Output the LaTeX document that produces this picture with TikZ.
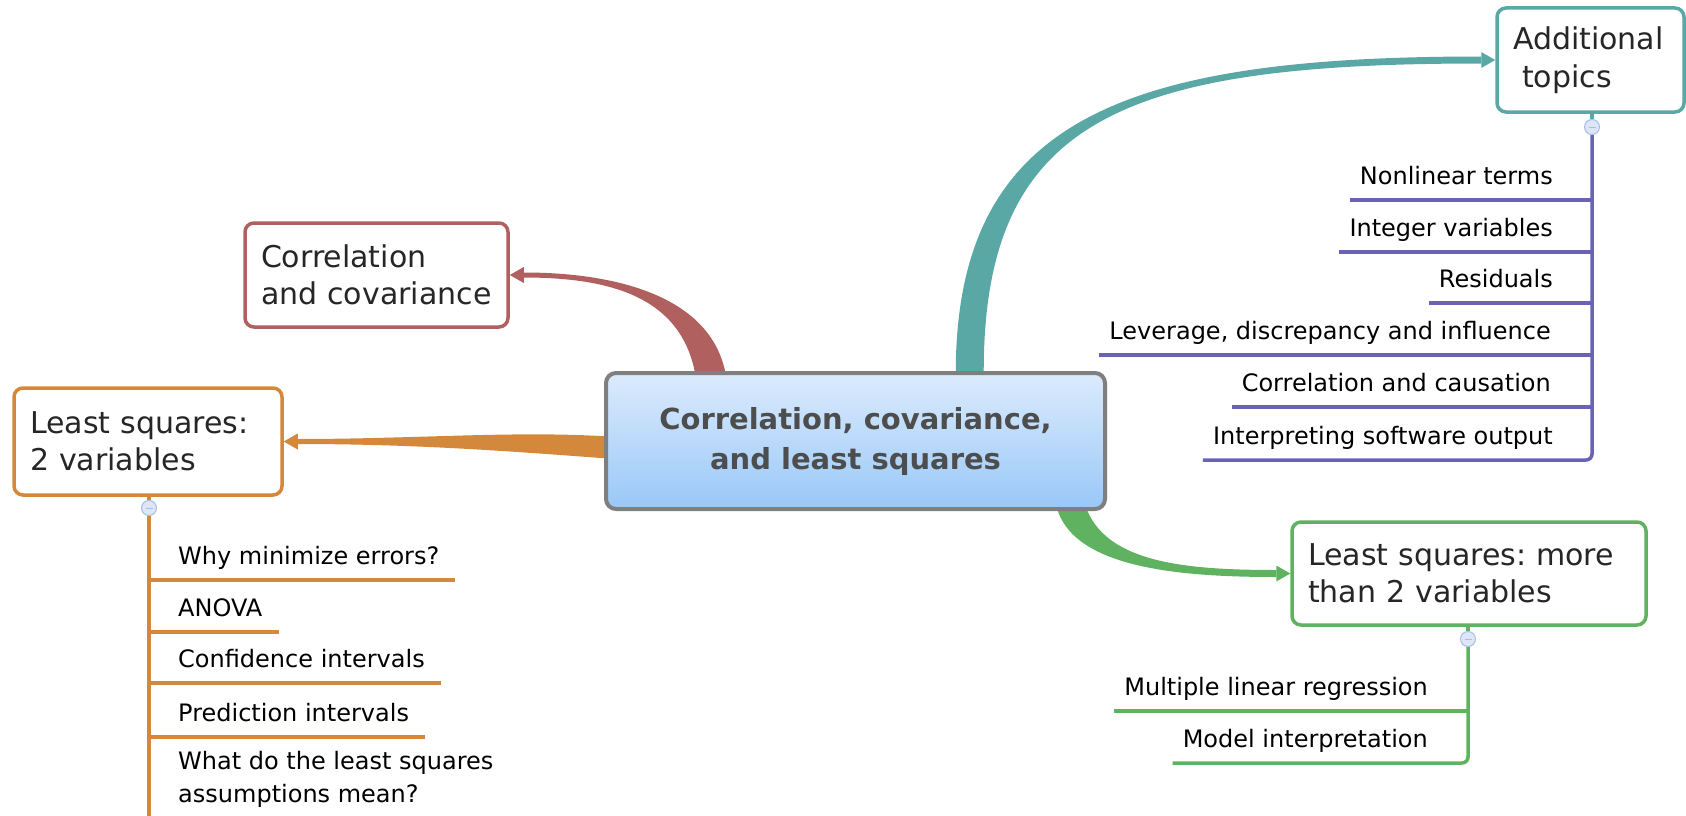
\documentclass[tikz,border=0pt]{standalone}
\usepackage{fontspec}
\setmainfont{DejaVu Sans}
\usetikzlibrary{calc,shadings}
\frenchspacing
\definecolor{cred}{HTML}{B0605E}
\definecolor{corange}{HTML}{D4883C}
\definecolor{cteal}{HTML}{5AA8A6}
\definecolor{cgreen}{HTML}{5FB260}
\definecolor{cpurple}{HTML}{6A62B6}
\definecolor{cgray}{HTML}{7F7F7F}
\definecolor{ctext}{HTML}{262626}
\definecolor{cmain}{HTML}{4D4D4D}
\definecolor{ctop}{HTML}{DCEBFC}
\definecolor{cbot}{HTML}{98C8F8}
\definecolor{cfill}{HTML}{DDE6F7}
\definecolor{cring}{HTML}{A9BDE6}
\newcommand\taperlink[8]{%
  \fill[#1] ($(#2)!#6!90:(#3)$) .. controls ($(#3)!#6!-90:(#2)$) and ($(#4)!#7!90:(#5)$) .. ($(#5)!#7!-90:(#4)$)
     -- ($(#5)!#7!90:(#4)$) .. controls ($(#4)!#7!-90:(#5)$) and ($(#3)!#6!90:(#2)$) .. ($(#2)!#6!-90:(#3)$) -- cycle;
  \fill[#1] (#8) -- ($(#5)!8pt!90:(#8)$) -- ($(#5)!8pt!-90:(#8)$) -- cycle;}
\begin{document}
\begin{tikzpicture}[x=1pt,y=-1pt,
  topicbox/.style={draw=#1, line width=3.5pt, rounded corners=9pt, fill=white, align=left,
     inner xsep=16pt, inner ysep=0pt, text=ctext, font=\fontsize{30}{37.5}\selectfont},
  mainbox/.style={draw=cgray, line width=4pt, rounded corners=10pt, top color=ctop, bottom color=cbot,
     align=center, text=cmain, font=\fontsize{29}{40}\selectfont\bfseries, inner sep=0pt,
     minimum width=499pt, minimum height=136pt},
  subitem/.style={font=\fontsize{24}{33}\selectfont, inner xsep=10pt, inner ysep=9.5pt, text depth=6pt, text=black},
  fold/.style={circle, minimum size=15pt, inner sep=0pt, fill=cfill, draw=cring, line width=1pt},
  stem/.style={line width=3.5pt}]
\useasboundingbox (0,0) rectangle (1686,816);

% main topic boxes
\node[topicbox=cred, text width=231pt, minimum height=104pt] (corr) at (376.5,275) {Correlation\\and covariance};
\node[topicbox=corange, text width=236pt, minimum height=107pt] (ls2) at (148,441.5) {Least squares:\\2 variables};
\node[topicbox=cteal, text width=155pt, minimum height=104pt] (add) at (1590.5,60) {Additional\\\hspace*{9pt}topics};
\node[topicbox=cgreen, text width=322pt, minimum height=103pt] (lsm) at (1469,573.5) {Least squares: more\\than 2 variables};

% central node reference (drawn later on top)
\path (855.5,441) node[minimum width=499pt, minimum height=136pt, inner sep=0pt] (mainref) {};

% tapered connectors
\coordinate (rS) at ($(mainref.north west)+(106,10)$);
\coordinate (rA) at (702,300);
\coordinate (rB) at (620,275);
\coordinate (rE) at ($(corr.east)+(14,0)$);
\taperlink{cred}{rS}{rA}{rB}{rE}{15pt}{2.5pt}{corr.east}

\coordinate (oS) at ($(mainref.west)+(9,7)$);
\coordinate (oA) at (520,441);
\coordinate (oB) at (420,441.5);
\coordinate (oE) at ($(ls2.east)+(14,0)$);
\taperlink{corange}{oS}{oA}{oB}{oE}{11pt}{2.5pt}{ls2.east}

\coordinate (tS) at ($(mainref.north west)+(364,9)$);
\coordinate (tA) at (966,120);
\coordinate (tB) at (1120,60);
\coordinate (tE) at ($(add.west)+(-14,0)$);
\taperlink{cteal}{tS}{tA}{tB}{tE}{14pt}{3.5pt}{add.west}

\coordinate (gS) at ($(mainref.south west)+(464,-7)$);
\coordinate (gA) at (1085,565);
\coordinate (gB) at (1180,573.5);
\coordinate (gE) at ($(lsm.west)+(-14,0)$);
\taperlink{cgreen}{gS}{gA}{gB}{gE}{14pt}{3.5pt}{lsm.west}

\node[mainbox] (main) at (855.5,441) {Correlation, covariance,\\and least squares};

% fold circles
\node[fold] (ls2c) at (149,508) {};
\node[fold] (addc) at (1592,127) {};
\node[fold] (lsmc) at (1468,639) {};

% sub items: Additional topics
\node[subitem, anchor=south east] (a1) at (1563,200) {Nonlinear terms};
\node[subitem, anchor=south east] (a2) at (1563,252) {Integer variables};
\node[subitem, anchor=south east] (a3) at (1563,303) {Residuals};
\node[subitem, anchor=south east] (a4) at (1561,355) {Leverage, discrepancy and influence};
\node[subitem, anchor=south east] (a5) at (1561,407) {Correlation and causation};
\node[subitem, anchor=south east] (a6) at (1563,460) {Interpreting software output};
\draw[stem, cteal] (addc |- add.south) -- (addc.north);
\draw[stem, cpurple, rounded corners=6pt] (addc.south) |- (a6.south west);
\foreach \i in {1,...,5} \draw[stem, cpurple] (a\i.south west) -- (a\i.south west -| addc);

% sub items: Least squares more than 2
\node[subitem, anchor=south east] (m1) at (1438,711) {Multiple linear regression};
\node[subitem, anchor=south east] (m2) at (1438,763) {Model interpretation};
\draw[stem, cgreen] (lsmc |- lsm.south) -- (lsmc.north);
\draw[stem, cgreen, rounded corners=6pt] (lsmc.south) |- (m2.south west);
\draw[stem, cgreen] (m1.south west) -- (m1.south west -| lsmc);

% sub items: Least squares 2 variables
\node[subitem, anchor=south west] (l1) at (168,580) {Why minimize errors?};
\node[subitem, anchor=south west] (l2) at (168,632) {ANOVA};
\node[subitem, anchor=south west] (l3) at (168,683) {Confidence intervals};
\node[subitem, anchor=south west] (l4) at (168,737) {Prediction intervals};
\node[subitem, anchor=north west, align=left, inner ysep=0pt, text depth=] (l5) at (168,751) {What do the least squares\\assumptions mean?};
\coordinate (ls2end) at (149,816);
\draw[stem, corange] (ls2c |- ls2.south) -- (ls2c.north);
\draw[stem, corange] (ls2c.south) -- (ls2end);
\foreach \i in {1,...,4} \draw[stem, corange] ($(l\i.south east)+(6,0)$) -- (l\i.south east -| ls2c);

% minus signs in fold circles
\foreach \c in {ls2c,addc,lsmc} \draw[cring, line width=1pt] ($(\c.center)+(-3.5,0)$) -- ($(\c.center)+(3.5,0)$);
\end{tikzpicture}
\end{document}
